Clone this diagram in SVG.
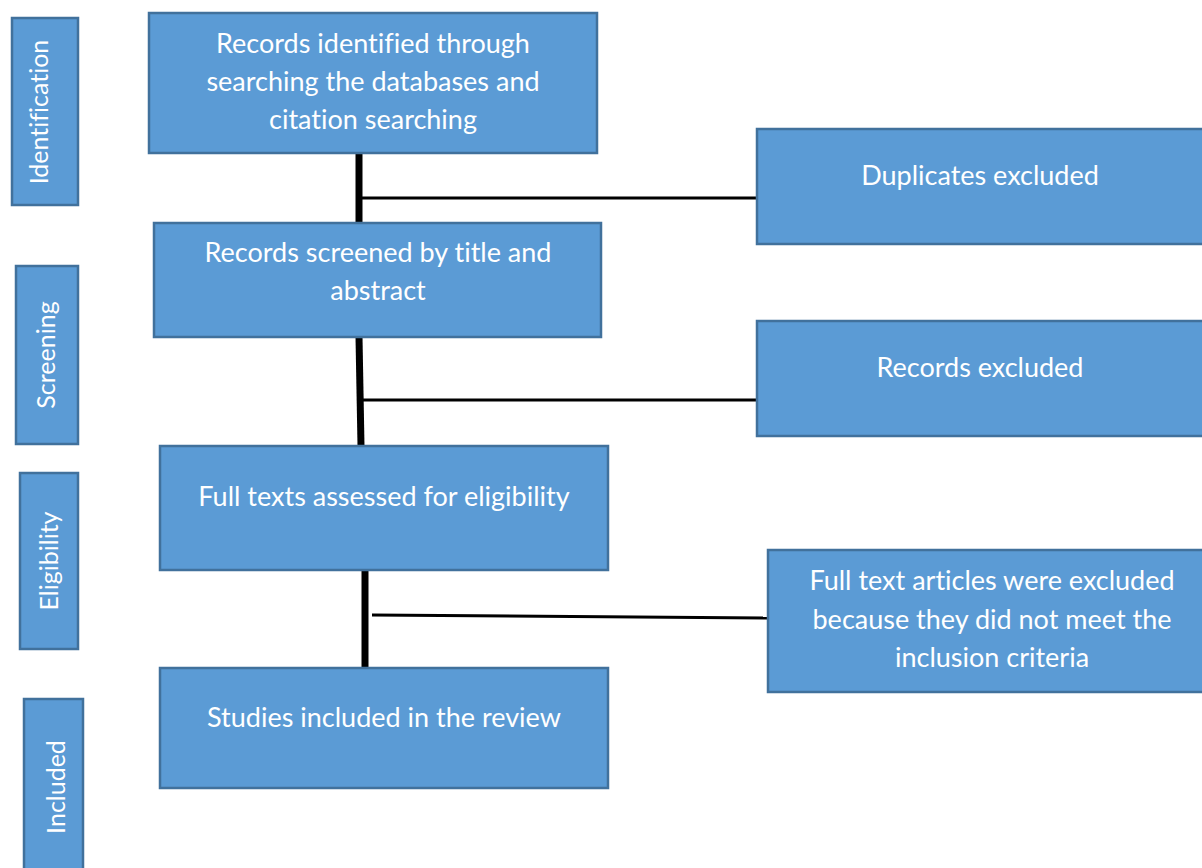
<svg xmlns="http://www.w3.org/2000/svg" width="1202" height="868" viewBox="0 0 1202 868">
<style>
.box{fill:#5B9BD5;stroke:#41719C;stroke-width:2.5}
.t{fill:#fff;font-family:Lato,"Open Sans","Liberation Sans",sans-serif;font-size:27px;text-anchor:middle;font-variant-ligatures:none}
.s{font-size:25px}
.thick{stroke:#000;stroke-width:7;fill:none}
.thin{stroke:#000;stroke-width:3;fill:none}
</style>
<rect width="1202" height="868" fill="#fff"/>
<g id="stage-identification">
<rect class="box" x="12" y="18" width="66" height="187"/>
<text class="t s" transform="translate(48,112) rotate(-90)">Identification</text>
</g>
<g id="stage-screening">
<rect class="box" x="16" y="266" width="62" height="178"/>
<text class="t s" transform="translate(55,355) rotate(-90)">Screening</text>
</g>
<g id="stage-eligibility">
<rect class="box" x="20" y="473" width="58" height="176"/>
<text class="t s" transform="translate(58,561) rotate(-90)">Eligibility</text>
</g>
<g id="stage-included">
<rect class="box" x="24" y="699" width="59" height="180"/>
<text class="t s" transform="translate(65,787) rotate(-90)">Included</text>
</g>
<g id="connectors">
<line class="thick" x1="359" y1="153" x2="359" y2="223"/>
<line class="thin" x1="362" y1="198" x2="757" y2="198"/>
<line class="thick" x1="359" y1="337" x2="361" y2="446"/>
<line class="thin" x1="363" y1="400" x2="757" y2="400"/>
<line class="thick" x1="365" y1="570" x2="365" y2="668"/>
<line class="thin" x1="372" y1="615" x2="768" y2="618"/>
</g>
<g id="records-identified">
<rect class="box" x="149" y="13" width="448" height="140"/>
<text class="t" x="373" y="53">Records identified through</text>
<text class="t" x="373" y="91">searching the databases and</text>
<text class="t" x="373" y="129">citation searching</text>
</g>
<g id="records-screened">
<rect class="box" x="154" y="223" width="447" height="114"/>
<text class="t" x="378" y="262">Records screened by title and</text>
<text class="t" x="378" y="300">abstract</text>
</g>
<g id="full-texts">
<rect class="box" x="160" y="446" width="448" height="124"/>
<text class="t" x="384" y="506">Full texts assessed for eligibility</text>
</g>
<g id="studies-included">
<rect class="box" x="160" y="668" width="448" height="120"/>
<text class="t" x="384" y="727">Studies included in the review</text>
</g>
<g id="duplicates-excluded">
<rect class="box" x="757" y="129" width="450" height="115"/>
<text class="t" x="980" y="185">Duplicates excluded</text>
</g>
<g id="records-excluded">
<rect class="box" x="757" y="321" width="450" height="115"/>
<text class="t" x="980" y="377">Records excluded</text>
</g>
<g id="fulltext-excluded">
<rect class="box" x="768" y="550" width="440" height="142"/>
<text class="t" x="992" y="590">Full text articles were excluded</text>
<text class="t" x="992" y="629">because they did not meet the</text>
<text class="t" x="992" y="667">inclusion criteria</text>
</g>
</svg>
